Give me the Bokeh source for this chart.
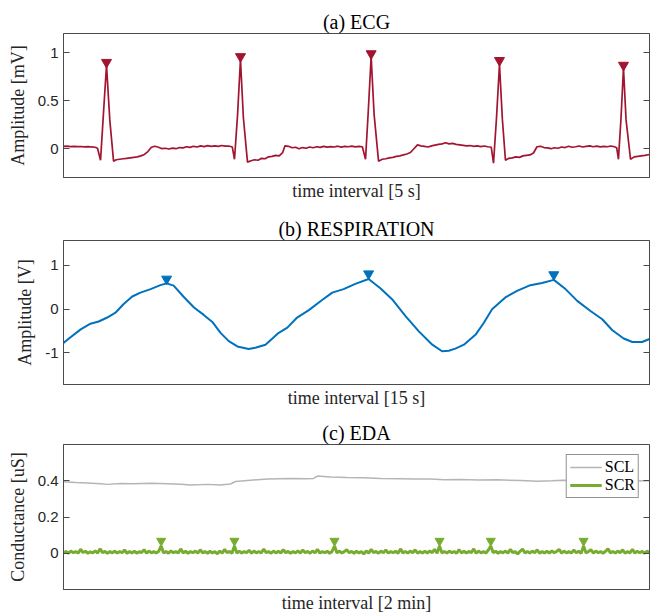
import numpy as np
from bokeh.plotting import figure
from bokeh.layouts import column
from bokeh.models import Range1d, LinearAxis, FixedTicker, Legend, LegendItem
from bokeh.embed import file_html
from bokeh.resources import INLINE

# ---------------- data ----------------
# (a) ECG, 5 s window
ECG_T = [0.00, 0.03, 0.06, 0.09, 0.12, 0.15, 0.18, 0.21, 0.24, 0.27, 0.29,
         0.316, 0.34, 0.367, 0.395, 0.427,
         0.45, 0.48, 0.51, 0.54, 0.57, 0.60, 0.63, 0.66, 0.69, 0.72, 0.75, 0.78, 0.81, 0.84,
         0.87, 0.90, 0.93, 0.96, 0.99, 1.02, 1.05, 1.08, 1.11, 1.14, 1.17, 1.20, 1.23, 1.26,
         1.29, 1.32, 1.35, 1.38, 1.41, 1.44,
         1.459, 1.485, 1.51, 1.535, 1.57,
         1.60, 1.63, 1.66, 1.69, 1.72, 1.75, 1.78, 1.81, 1.84, 1.87, 1.89, 1.92, 1.95, 1.98,
         2.01, 2.04, 2.07, 2.10, 2.13, 2.16, 2.19, 2.22, 2.25, 2.28, 2.31, 2.34, 2.37, 2.40,
         2.43, 2.46, 2.49, 2.52, 2.55,
         2.577, 2.60, 2.625, 2.65, 2.688,
         2.72, 2.75, 2.78, 2.81, 2.84, 2.87, 2.90, 2.93, 2.96, 2.99, 3.02, 3.05, 3.08, 3.11,
         3.14, 3.17, 3.20, 3.23, 3.26, 3.29, 3.32, 3.35, 3.38, 3.41, 3.44, 3.47, 3.50, 3.53,
         3.56, 3.59, 3.62, 3.65,
         3.669, 3.695, 3.72, 3.745, 3.771,
         3.80, 3.83, 3.86, 3.89, 3.92, 3.95, 3.98, 4.01, 4.04, 4.07, 4.10, 4.13, 4.16, 4.19,
         4.22, 4.25, 4.28, 4.31, 4.34, 4.37, 4.40, 4.43, 4.46, 4.49, 4.52, 4.55, 4.58, 4.61,
         4.64, 4.67, 4.70, 4.72,
         4.735, 4.757, 4.778, 4.80, 4.838,
         4.87, 4.90, 4.93, 4.96, 5.00]
ECG_V = [0.024, 0.026, 0.022, 0.025, 0.021, 0.023, 0.020, 0.022, 0.018, 0.015, 0.005,
         -0.12, 0.35, 0.87, 0.30, -0.13,
         -0.115, -0.11, -0.105, -0.10, -0.095, -0.09, -0.085, -0.075, -0.06, -0.03, 0.015, 0.025, 0.015, 0.0,
         0.005, -0.003, 0.006, 0.0, 0.012, 0.008, 0.02, 0.014, 0.025, 0.018, 0.03, 0.022, 0.032, 0.025,
         0.03, 0.024, 0.033, 0.026, 0.028, 0.018,
         -0.11, 0.35, 0.93, 0.32, -0.14,
         -0.125, -0.115, -0.12, -0.10, -0.105, -0.085, -0.08, -0.07, -0.075, -0.04, 0.03, 0.025, 0.01, 0.015,
         0.0, 0.012, 0.005, 0.018, 0.01, 0.02, 0.014, 0.024, 0.016, 0.022, 0.018, 0.026, 0.017, 0.024,
         0.02, 0.027, 0.019, 0.024, 0.02,
         -0.11, 0.38, 0.96, 0.36, -0.13,
         -0.11, -0.105, -0.095, -0.09, -0.08, -0.075, -0.065, -0.055, -0.04, 0.0, 0.04, 0.03, 0.025, 0.018,
         0.03, 0.038, 0.045, 0.05, 0.062, 0.05, 0.055, 0.045, 0.04, 0.035, 0.03, 0.033, 0.025, 0.03,
         0.022, 0.028, 0.02, 0.015,
         -0.15, 0.33, 0.88, 0.30, -0.12,
         -0.10, -0.095, -0.085, -0.09, -0.075, -0.07, -0.065, -0.045, 0.02, 0.025, 0.012, 0.008, 0.0, 0.01,
         0.005, 0.018, 0.012, 0.025, 0.015, 0.02, 0.028, 0.018, 0.024, 0.03, 0.02, 0.026, 0.019, 0.024,
         0.02, 0.028, 0.02, 0.01,
         -0.11, 0.32, 0.84, 0.30, -0.11,
         -0.085, -0.08, -0.075, -0.07, -0.06]
ECG_PEAK_T = [0.367, 1.51, 2.625, 3.72, 4.778]
ECG_PEAK_MARK = [0.90, 0.96, 0.99, 0.92, 0.87]

# (b) Respiration, 15 s window
RESP_T = [0.00, 0.18, 0.44, 0.69, 0.90, 1.12, 1.33, 1.54, 1.76, 1.97, 2.23, 2.48, 2.64,
          2.82, 3.08, 3.34, 3.59, 3.81, 4.02, 4.23, 4.45, 4.74, 4.91, 5.17, 5.51, 5.73,
          5.98, 6.28, 6.62, 6.88, 7.17, 7.47, 7.81, 8.11, 8.41, 8.75, 9.09, 9.44, 9.69,
          9.86, 10.03, 10.25, 10.55, 10.76, 10.97, 11.31, 11.61, 11.95, 12.25, 12.55,
          12.85, 13.15, 13.49, 13.79, 14.05, 14.34, 14.56, 14.81, 15.00]
RESP_V = [-0.77, -0.64, -0.46, -0.33, -0.28, -0.19, -0.08, 0.12, 0.29, 0.38, 0.46, 0.55, 0.59,
          0.54, 0.28, 0.04, -0.13, -0.29, -0.54, -0.73, -0.85, -0.91, -0.88, -0.81, -0.54, -0.42,
          -0.19, -0.02, 0.21, 0.38, 0.46, 0.58, 0.69, 0.48, 0.23, -0.15, -0.50, -0.81, -0.96,
          -0.95, -0.90, -0.81, -0.58, -0.31, 0.0, 0.27, 0.42, 0.55, 0.60, 0.67,
          0.46, 0.19, -0.04, -0.23, -0.48, -0.67, -0.75, -0.75, -0.68]
RESP_PEAK_T = [2.64, 7.81, 12.55]
RESP_PEAK_MARK = [0.69, 0.81, 0.79]

# (c) EDA, 2 min window
SCL_T = [0, 2.5, 4.9, 7.6, 9.0, 11.7, 14.3, 17.8, 21.3, 24.0, 26.0, 29.5, 32.0, 34.2,
         35.2, 38.9, 41.8, 46.5, 49.6, 51.2, 52.0, 54.7, 58.0, 61.4, 65.0, 69.0, 72.0,
         75.2, 78.0, 81.3, 85.0, 88.9, 93.6, 97.1, 100.0, 102.4, 106.0, 110.0, 115.0, 120.0]
SCL_V = [0.395, 0.390, 0.388, 0.384, 0.380, 0.385, 0.383, 0.386, 0.384, 0.381, 0.377, 0.380,
         0.377, 0.382, 0.396, 0.404, 0.409, 0.413, 0.411, 0.413, 0.426, 0.421, 0.418, 0.417,
         0.413, 0.411, 0.409, 0.410, 0.406, 0.407, 0.404, 0.405, 0.401, 0.397, 0.400, 0.403,
         0.401, 0.402, 0.399, 0.400]
SCR_STEP = 0.5  # seconds between SCR samples
SCR_MILLI = [2, 10, 0, 12, 3, 9, 1, 22, 4, 11, 0, 8, 2, 13, 1, 25, 3, 10, 0, 9,
             2, 12, 1, 9, 3, 18, 0, 10, 2, 11, 1, 8, 4, 20, 0, 12, 2, 9, 1, 11,
             40, 2, 10, 0, 13, 3, 9, 1, 24, 2, 11, 0, 9, 3, 12, 1, 19, 2, 10, 0,
             11, 2, 9, -3, 12, 1, 21, 3, 10, 0, 40, 2, 11, 1, 9, 3, 17, 0, 12, 2,
             10, 1, 23, 3, 9, 0, 12, 2, 11, 1, 20, 3, 10, 0, 9, 2, 13, 1, 18, 3,
             10, 0, 12, 2, 22, 1, 9, 3, 11, 0, 10, 40, 2, 12, 1, 9, 19, 3, 10, 0,
             11, 2, 9, -4, 13, 1, 21, 3, 10, 0, 12, 2, 18, 1, 9, 3, 11, 0, 24, 2,
             10, 1, 12, 3, 19, 0, 9, 2, 11, 1, 13, 3, 22, 0, 40, 2, 10, 1, 12, 3,
             9, 0, 20, 2, 11, 1, 10, 3, 24, 0, 12, 2, 9, 1, 18, 40, 3, 11, 0, 10,
             2, 12, 1, 21, 3, 9, -4, 11, 23, 2, 10, 1, 12, 3, 19, 0, 9, 2, 11, 1,
             13, 3, 10, 22, 0, 12, 2, 9, 1, 18, 3, 11, 0, 40, 2, 10, 20, 1, 12, 3,
             9, 0, 11, 24, 2, 10, 1, 12, 3, 19, 0, 9, 2, 21, 1, 11, 3, 10, 0, 12,
             2]
SCR_PEAK_T = [20.0, 35.0, 55.5, 77.0, 87.5, 106.5]
SCR_PEAK_MARK = [0.068, 0.068, 0.068, 0.068, 0.068, 0.068]

ECG_TICKS, ECG_TICK_LABELS = [0, 0.5, 1], ["0", "0.5", "1"]
RESP_TICKS, RESP_TICK_LABELS = [-1, 0, 1], ["-1", "0", "1"]
EDA_TICKS, EDA_TICK_LABELS = [0, 0.2, 0.4], ["0", "0.2", "0.4"]

# ---------------- style ----------------
SERIF = "Liberation Serif"
SANS = "Liberation Sans"
DARK = "#262626"
BOX = "#4a4a4a"


def make_panel(title, xlabel, ylabel, xr, yr, ticks, labels, height, top, bottom):
    p = figure(width=657, height=height, x_range=Range1d(*xr), y_range=Range1d(*yr),
               output_backend="svg", toolbar_location=None, tools="",
               min_border_left=63, min_border_right=8,
               min_border_top=top, min_border_bottom=bottom,
               x_axis_location="below", y_axis_location="left")
    p.title.text = title
    p.title.align = "center"
    p.title.text_font = SERIF
    p.title.text_font_size = "20px"
    p.title.text_font_style = "normal"
    p.title.text_color = "black"
    p.title.standoff = 2
    p.grid.visible = False
    p.outline_line_color = BOX
    p.outline_line_width = 1
    p.background_fill_color = "white"
    p.border_fill_color = "white"

    xa = p.xaxis[0]
    xa.ticker = FixedTicker(ticks=[])
    xa.axis_label = xlabel
    xa.axis_label_text_font = SERIF
    xa.axis_label_text_font_size = "18px"
    xa.axis_label_text_font_style = "normal"
    xa.axis_label_text_color = DARK
    xa.axis_label_standoff = 3
    xa.major_label_text_color = None
    xa.major_label_text_font_size = "1px"
    xa.major_label_standoff = 0
    xa.major_tick_out = 0
    xa.major_tick_in = 0
    xa.minor_tick_out = 0
    xa.minor_tick_in = 0
    xa.axis_line_color = BOX

    ya = p.yaxis[0]
    ya.ticker = FixedTicker(ticks=ticks)
    ya.major_label_overrides = {t: l for t, l in zip(ticks, labels)}
    ya.major_label_text_font = SANS
    ya.major_label_text_font_size = "15px"
    ya.major_label_text_color = DARK
    ya.major_label_standoff = 5
    ya.major_tick_in = 6
    ya.major_tick_out = 0
    ya.minor_tick_in = 0
    ya.minor_tick_out = 0
    ya.major_tick_line_color = BOX
    ya.axis_line_color = BOX
    ya.axis_label = ylabel
    ya.axis_label_text_font = SERIF
    ya.axis_label_text_font_size = "18px"
    ya.axis_label_text_font_style = "normal"
    ya.axis_label_text_color = DARK
    ya.axis_label_standoff = 7

    ra = LinearAxis(ticker=FixedTicker(ticks=ticks))
    ra.major_label_text_color = None
    ra.major_label_text_font_size = "1px"
    ra.major_label_standoff = 0
    ra.major_tick_in = 6
    ra.major_tick_out = 0
    ra.minor_tick_in = 0
    ra.minor_tick_out = 0
    ra.major_tick_line_color = BOX
    ra.axis_line_color = BOX
    p.add_layout(ra, "right")
    return p


# (a) ECG
ECG_COLOR = "#A2142F"
pa = make_panel("(a) ECG", "time interval [5 s]", "Amplitude [mV]", (0, 5), (-0.3, 1.2),
                ECG_TICKS, ECG_TICK_LABELS, 205, 33, 28)
pa.line(ECG_T, ECG_V, line_color=ECG_COLOR, line_width=1.7)
pa.scatter(ECG_PEAK_T, ECG_PEAK_MARK, marker="inverted_triangle", size=10,
           fill_color=ECG_COLOR, line_color=ECG_COLOR)

# (b) Respiration
RESP_COLOR = "#0072BD"
pb = make_panel("(b) RESPIRATION", "time interval [15 s]", "Amplitude [V]", (0, 15), (-1.72, 1.57),
                RESP_TICKS, RESP_TICK_LABELS, 210, 35, 31)
pb.line(RESP_T, RESP_V, line_color=RESP_COLOR, line_width=2, line_join="round")
pb.scatter(RESP_PEAK_T, RESP_PEAK_MARK, marker="inverted_triangle", size=10,
           fill_color=RESP_COLOR, line_color=RESP_COLOR)

# (c) EDA
SCL_COLOR = "#B5B5B5"
SCR_COLOR = "#77AC30"
pc = make_panel("(c) EDA", "time interval [2 min]", "Conductance [uS]", (0, 120), (-0.2, 0.6),
                EDA_TICKS, EDA_TICK_LABELS, 201, 29, 27)
scr_t = np.arange(len(SCR_MILLI)) * SCR_STEP
scr_v = np.array(SCR_MILLI, dtype=float) / 1000.0
r_scl = pc.line(SCL_T, SCL_V, line_color=SCL_COLOR, line_width=1.5)
r_scr = pc.line(scr_t, scr_v, line_color=SCR_COLOR, line_width=3)
pc.scatter(SCR_PEAK_T, SCR_PEAK_MARK, marker="inverted_triangle", size=9,
           fill_color=SCR_COLOR, line_color=SCR_COLOR)

legend = Legend(items=[LegendItem(label="SCL", renderers=[r_scl]),
                       LegendItem(label="SCR", renderers=[r_scr])],
                location="top_right")
legend.label_text_font = SERIF
legend.label_text_font_size = "16px"
legend.label_text_color = "black"
legend.border_line_color = DARK
legend.border_line_width = 1
legend.background_fill_color = "white"
legend.background_fill_alpha = 1
legend.margin = 10
legend.padding = 3
legend.spacing = 0
legend.label_height = 18
legend.glyph_height = 18
legend.glyph_width = 32
legend.label_standoff = 3
pc.add_layout(legend, "center")

layout = column(pa, pb, pc, spacing=0)
open("out.html", "w").write(file_html(layout, INLINE))
